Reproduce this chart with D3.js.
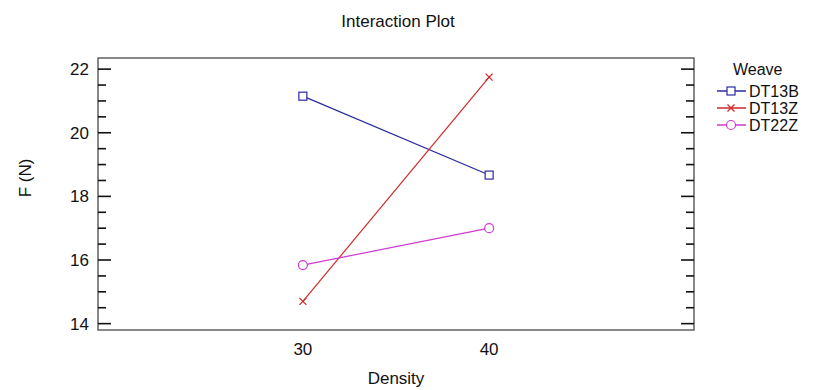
<!DOCTYPE html>
<html>
<head>
<meta charset="utf-8">
<script src="https://cdn.jsdelivr.net/npm/d3@7"></script>
<style>
  body { margin: 0; background: #fff; }
  svg text { font-family: "Liberation Sans", Arial, sans-serif; fill: #111; }
</style>
</head>
<body>
<svg id="chart" width="818" height="390"></svg>
<script>
// data
let densities = [30, 40]
let weaves = ['DT13B', 'DT13Z', 'DT22Z']
let dt13b = [21.15, 18.67]
let dt13z = [14.7, 21.75]
let dt22z = [15.84, 17.0]
let yTicks = [14, 16, 18, 20, 22]

let series = [
    { name: weaves[0], values: dt13b, color: '#2a2aa0', symbol: 'square' },
    { name: weaves[1], values: dt13z, color: '#d02a2a', symbol: 'cross' },
    { name: weaves[2], values: dt22z, color: '#d03ad0', symbol: 'circle' }
]

let svg = d3.select('#chart')
let plotLeft = 98, plotRight = 694, plotTop = 58, plotBottom = 330

let x = d3.scaleLinear().domain([19, 51]).range([plotLeft, plotRight])
let y = d3.scaleLinear().domain([13.8, 22.35]).range([plotBottom, plotTop])

// frame
svg.append('rect')
    .attr('x', plotLeft).attr('y', plotTop)
    .attr('width', plotRight - plotLeft).attr('height', plotBottom - plotTop)
    .attr('fill', 'none').attr('stroke', '#555').attr('stroke-width', 1.4)

// y ticks, inside on both sides
let minor = d3.range(14, 22.01, 0.5)
let tickG = svg.append('g')
minor.forEach(function (v) {
    let major = yTicks.indexOf(v) >= 0
    let len = major ? 13 : 8
    tickG.append('line')
        .attr('x1', plotLeft).attr('x2', plotLeft + len)
        .attr('y1', y(v)).attr('y2', y(v))
        .attr('stroke', '#111').attr('stroke-width', 1.6)
    tickG.append('line')
        .attr('x1', plotRight).attr('x2', plotRight - len)
        .attr('y1', y(v)).attr('y2', y(v))
        .attr('stroke', '#111').attr('stroke-width', 1.6)
})

svg.append('g')
    .selectAll('text')
    .data(yTicks)
    .enter().append('text')
    .attr('x', plotLeft - 9)
    .attr('y', function (d) { return y(d) })
    .attr('dy', '0.35em')
    .attr('text-anchor', 'end')
    .style('font-size', '17px')
    .text(function (d) { return d })

svg.append('g')
    .selectAll('text')
    .data(densities)
    .enter().append('text')
    .attr('x', function (d) { return x(d) })
    .attr('y', 355)
    .attr('text-anchor', 'middle')
    .style('font-size', '17px')
    .text(function (d) { return d })

// titles
svg.append('text').attr('x', 398).attr('y', 27).attr('text-anchor', 'middle')
    .style('font-size', '17px').text('Interaction Plot')
svg.append('text').attr('x', 396).attr('y', 384).attr('text-anchor', 'middle')
    .style('font-size', '17px').text('Density')
svg.append('text')
    .attr('transform', 'translate(31,178) rotate(-90)')
    .attr('text-anchor', 'middle')
    .style('font-size', '17px').text('F (N)')

// marker drawing
function drawSymbol(g, s, cx, cy) {
    if (s.symbol === 'square') {
        g.append('rect').attr('x', cx - 4).attr('y', cy - 4).attr('width', 8).attr('height', 8)
            .attr('fill', '#fff').attr('stroke', s.color).attr('stroke-width', 1.2)
    } else if (s.symbol === 'circle') {
        g.append('circle').attr('cx', cx).attr('cy', cy).attr('r', 4.5)
            .attr('fill', '#fff').attr('stroke', s.color).attr('stroke-width', 1.2)
    } else {
        g.append('path')
            .attr('d', 'M' + (cx - 3.5) + ',' + (cy - 3.5) + 'L' + (cx + 3.5) + ',' + (cy + 3.5) +
                'M' + (cx - 3.5) + ',' + (cy + 3.5) + 'L' + (cx + 3.5) + ',' + (cy - 3.5))
            .attr('stroke', s.color).attr('stroke-width', 1.3)
    }
}

let line = d3.line()
    .x(function (d, i) { return x(densities[i]) })
    .y(function (d) { return y(d) })

let plotG = svg.append('g')
series.forEach(function (s) {
    plotG.append('path')
        .datum(s.values)
        .attr('d', line)
        .attr('fill', 'none')
        .attr('stroke', s.color)
        .attr('stroke-width', 1.2)
})
series.forEach(function (s) {
    s.values.forEach(function (v, i) { drawSymbol(plotG, s, x(densities[i]), y(v)) })
})

// legend
let legend = svg.append('g')
legend.append('text').attr('x', 733).attr('y', 75).style('font-size', '16px').text('Weave')
series.forEach(function (s, i) {
    let ly = 91 + i * 17
    legend.append('line').attr('x1', 717).attr('x2', 746).attr('y1', ly).attr('y2', ly)
        .attr('stroke', s.color).attr('stroke-width', 1.5)
    drawSymbol(legend, s, 731, ly)
    legend.append('text').attr('x', 749).attr('y', ly).attr('dy', '0.35em')
        .style('font-size', '16px').text(s.name)
})
</script>
</body>
</html>
